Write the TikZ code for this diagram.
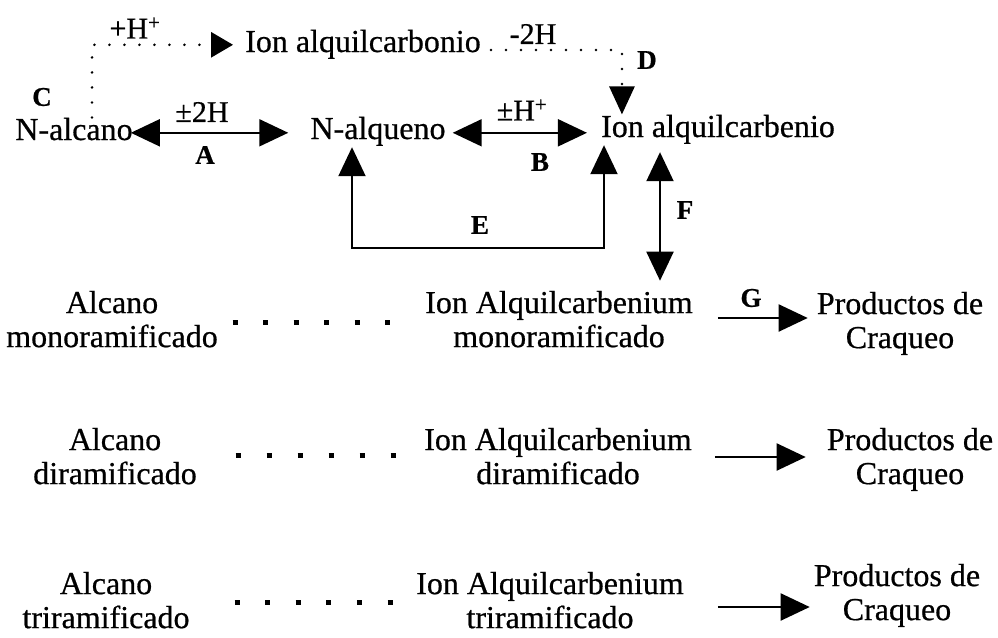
\documentclass[tikz,border=0pt]{standalone}
\usepackage{fontspec}
\setmainfont{Liberation Serif}[FakeBold=0.6]
\usetikzlibrary{arrows.meta}
\newcommand\twolines[2]{\rule{0pt}{22pt}#1\\#2\rule[-8pt]{0pt}{8pt}}
\begin{document}
\begin{tikzpicture}[x=1pt,y=-1pt,
  main/.style={font=\fontsize{32}{34}\selectfont, inner sep=0pt, text height=22.4pt, text depth=8pt, anchor=base},
  multi/.style={font=\fontsize{32}{34}\selectfont, align=center, inner sep=0pt},
  lbl/.style={font=\fontsize{30}{32}\selectfont, inner sep=0pt},
  letter/.style={font=\bfseries\fontsize{27}{30}\selectfont, inner sep=0pt},
  ln/.style={line width=2pt},
  tri/.style={-{Triangle[length=29pt,width=27pt]}},
  dbl/.style={{Triangle[length=29pt,width=27pt]}-{Triangle[length=29pt,width=27pt]}},
  dotline/.style={line width=2.8pt, line cap=round, dash pattern=on 0pt off 15pt},
  bigdots/.style={line width=5pt, line cap=butt, dash pattern=on 5pt off 25.5pt}
]
\fill[white] (0,0) rectangle (998,637);
\useasboundingbox (0,0) rectangle (998,637);

% ---- top row nodes
\node[main] (nalcano) at (74,140) {N-alcano};
\node[main] (nalqueno) at (378,139) {N-alqueno};
\node[main] (ionc) at (718,137) {Ion alquilcarbenio};
\node[main] (ionco) at (363,52) {Ion alquilcarbonio};

% ---- labels
\node[lbl] (lpH) at (135,28) {+H\textsuperscript{+}};
\node[lbl] (lm2H) at (533,34) {-2H};
\node[lbl] (lpm2H) at (202,112) {±2H};
\node[lbl] (lpmH) at (522,110) {±H\textsuperscript{+}};
\node[letter] (lC) at (42,97) {C};
\node[letter] (lD) at (647,60) {D};
\node[letter] (lA) at (205,155) {A};
\node[letter] (lB) at (540,162) {B};
\node[letter] (lE) at (480,225) {E};
\node[letter] (lF) at (685,210) {F};
\node[letter] (lG) at (751,298) {G};

% ---- lower rows
\node[multi] (alc1) at (112,323) {\twolines{Alcano}{monoramificado}};
\node[multi] (ion1) at (559,323) {\twolines{Ion Alquilcarbenium}{monoramificado}};
\node[multi] (prod1) at (900,324) {\twolines{Productos de}{Craqueo}};

\node[multi] (alc2) at (115,460) {\twolines{Alcano}{diramificado}};
\node[multi] (ion2) at (558,460) {\twolines{Ion Alquilcarbenium}{diramificado}};
\node[multi] (prod2) at (910,460) {\twolines{Productos de}{Craqueo}};

\node[multi] (alc3) at (106,604) {\twolines{Alcano}{triramificado}};
\node[multi] (ion3) at (550,604) {\twolines{Ion Alquilcarbenium}{triramificado}};
\node[multi] (prod3) at (897,596) {\twolines{Productos de}{Craqueo}};

% ---- connectors top
\draw[ln,dbl,shorten <=-2pt,shorten >=22pt] (nalcano.east) -- (nalcano.east -| nalqueno.west);
\draw[ln,dbl,shorten <=7pt,shorten >=14pt] (nalqueno.east |- nalcano.east) -- (nalcano.east -| ionc.west);
\draw[dotline,-{Triangle[length=22pt,width=25pt]},shorten >=12pt] ([xshift=18pt]nalcano.north) |- (ionco.west);
\draw[dotline,-{Triangle[length=28pt,width=25pt]}] ([xshift=10pt,yshift=2pt]ionco.base east) -| ([xshift=21pt]ionc.north west);
\coordinate (ecorner) at (604,248);
\draw[ln,dbl] ([xshift=-26pt]nalqueno.south) |- (ecorner) -- ([xshift=-114pt]ionc.south);
\coordinate (fs) at ([xshift=-58pt,yshift=-7pt]ionc.south);
\draw[ln,dbl,shorten >=10pt] (fs) -- (fs |- ion1.north);

% ---- reaction arrows
\draw[ln,tri,shorten <=25pt,shorten >=9pt] ([yshift=5pt]ion1.east) -- ([yshift=5pt]ion1.east -| prod1.west);
\draw[ln,tri,shorten <=23pt,shorten >=21pt] ([yshift=3pt]ion2.east) -- ([yshift=3pt]ion2.east -| prod2.west);
\draw[ln,tri,shorten <=34pt,shorten >=4pt] ([yshift=-3pt]ion3.east) -- ([yshift=-3pt]ion3.east -| prod3.west);

% ---- square-dot rows
\coordinate (d1a) at (232.5,322); \coordinate (d1b) at (390,322);
\coordinate (d2a) at (235.5,455); \coordinate (d2b) at (396,455);
\coordinate (d3a) at (234.5,602); \coordinate (d3b) at (393,602);
\draw[bigdots] (d1a) -- (d1b);
\draw[bigdots,dash pattern=on 5pt off 26pt] (d2a) -- (d2b);
\draw[bigdots,dash pattern=on 5pt off 25.6pt] (d3a) -- (d3b);
\end{tikzpicture}
\end{document}
